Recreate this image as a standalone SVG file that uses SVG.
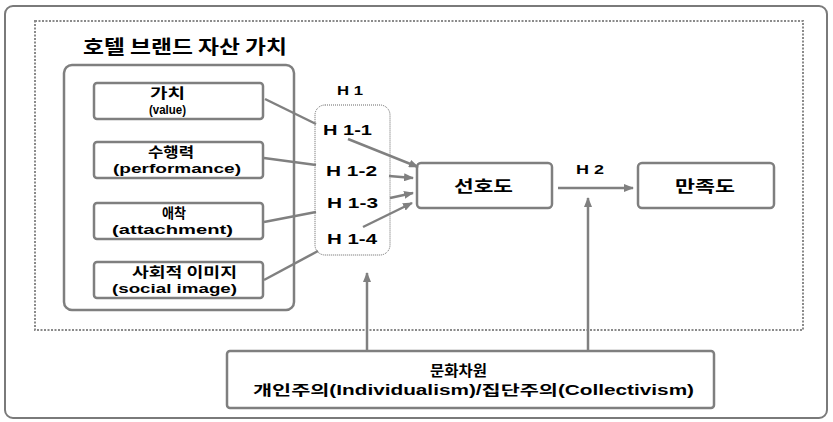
<svg xmlns="http://www.w3.org/2000/svg" width="833" height="422" viewBox="0 0 833 422">
<style>
.box{fill:#fff;stroke:#7f7f7f;stroke-width:2.5}
.t{font-family:"Liberation Sans","Noto Sans CJK KR",sans-serif;font-weight:bold;fill:#000}
.k{font-family:"Noto Sans CJK KR","Liberation Sans",sans-serif;font-weight:bold;fill:#000}
.ln{stroke:#808080;stroke-width:2.5;fill:none}
.ar{stroke:#808080;stroke-width:2.5;fill:none;marker-end:url(#ah)}
</style>
<defs>
<marker id="ah" markerUnits="userSpaceOnUse" markerWidth="10" markerHeight="8" refX="9" refY="4" orient="auto">
<path d="M0,0 L10,4 L0,8 Z" fill="#808080"/>
</marker>
</defs>
<rect width="833" height="422" fill="#fff"/>
<g id="frame">
<rect x="5" y="6" width="822" height="412" rx="8" fill="none" stroke="#7a7a7a" stroke-width="2"/>
<rect x="35" y="21" width="768" height="309" fill="none" stroke="#8a8a8a" stroke-width="2" stroke-dasharray="2 1.5"/>
<text class="k" x="83" y="54" font-size="19" textLength="204" lengthAdjust="spacingAndGlyphs">호텔 브랜드 자산 가치</text>
</g>
<g id="brand-equity">
<rect x="64" y="65" width="230" height="245" rx="8" fill="none" stroke="#7f7f7f" stroke-width="2.5"/>
</g>
<g id="value">
<rect class="box" x="94" y="83" width="169" height="36" rx="3"/>
<text class="k" x="150" y="98" font-size="14" textLength="35" lengthAdjust="spacingAndGlyphs">가치</text>
<text class="t" x="149" y="114" font-size="13" textLength="37" lengthAdjust="spacingAndGlyphs">(value)</text>
</g>
<g id="performance">
<rect class="box" x="94" y="142" width="169" height="36" rx="3"/>
<text class="k" x="148" y="157" font-size="14" textLength="46" lengthAdjust="spacingAndGlyphs">수행력</text>
<text class="t" x="113" y="173" font-size="13" textLength="128" lengthAdjust="spacingAndGlyphs">(performance)</text>
</g>
<g id="attachment">
<rect class="box" x="94" y="203" width="169" height="36" rx="3"/>
<text class="k" x="162" y="218" font-size="14" textLength="24" lengthAdjust="spacingAndGlyphs">애착</text>
<text class="t" x="112" y="234" font-size="13" textLength="121" lengthAdjust="spacingAndGlyphs">(attachment)</text>
</g>
<g id="social-image">
<rect class="box" x="94" y="262" width="169" height="36" rx="3"/>
<text class="k" x="132" y="277" font-size="14" textLength="105" lengthAdjust="spacingAndGlyphs">사회적 이미지</text>
<text class="t" x="112" y="293" font-size="13" textLength="125" lengthAdjust="spacingAndGlyphs">(social image)</text>
</g>
<g id="h1">
<rect x="315" y="105" width="75" height="150" rx="10" fill="none" stroke="#666" stroke-width="1" stroke-dasharray="1 1"/>
<text class="t" x="337" y="95" font-size="13" textLength="26" lengthAdjust="spacingAndGlyphs">H 1</text>
<text class="t" x="323" y="135" font-size="14" textLength="49" lengthAdjust="spacingAndGlyphs">H 1-1</text>
<text class="t" x="326" y="176" font-size="14" textLength="51" lengthAdjust="spacingAndGlyphs">H 1-2</text>
<text class="t" x="327" y="208" font-size="14" textLength="51" lengthAdjust="spacingAndGlyphs">H 1-3</text>
<text class="t" x="327" y="244" font-size="14" textLength="50" lengthAdjust="spacingAndGlyphs">H 1-4</text>
</g>
<g id="preference">
<rect class="box" x="417" y="163" width="135" height="45" rx="4"/>
<text class="k" x="454" y="192" font-size="16" textLength="59" lengthAdjust="spacingAndGlyphs">선호도</text>
</g>
<g id="satisfaction">
<rect class="box" x="638" y="163" width="136" height="45" rx="4"/>
<text class="k" x="675" y="192" font-size="16" textLength="60" lengthAdjust="spacingAndGlyphs">만족도</text>
</g>
<g id="culture">
<rect class="box" x="227" y="351" width="487" height="57" rx="3"/>
<text class="k" x="430" y="376" font-size="15" textLength="57" lengthAdjust="spacingAndGlyphs">문화차원</text>
<text class="t" x="253" y="395" font-size="14" textLength="441" lengthAdjust="spacingAndGlyphs">개인주의(Individualism)/집단주의(Collectivism)</text>
</g>
<g id="connectors">
<line class="ln" x1="265" y1="99" x2="316" y2="124"/>
<line class="ln" x1="264" y1="158" x2="316" y2="165"/>
<line class="ln" x1="264" y1="222" x2="316" y2="212"/>
<line class="ln" x1="264" y1="280" x2="318" y2="251"/>
<line class="ar" x1="348" y1="139" x2="418" y2="167"/>
<line class="ar" x1="389" y1="176" x2="413" y2="178"/>
<line class="ar" x1="390" y1="198" x2="413" y2="193"/>
<line class="ar" x1="363" y1="227" x2="412" y2="203"/>
<line class="ar" x1="558" y1="188" x2="633" y2="188"/>
<text class="t" x="576" y="174" font-size="13" textLength="28" lengthAdjust="spacingAndGlyphs">H 2</text>
<line class="ar" x1="367" y1="351" x2="367" y2="273"/>
<line class="ar" x1="588" y1="351" x2="588" y2="198"/>
</g>
</svg>
